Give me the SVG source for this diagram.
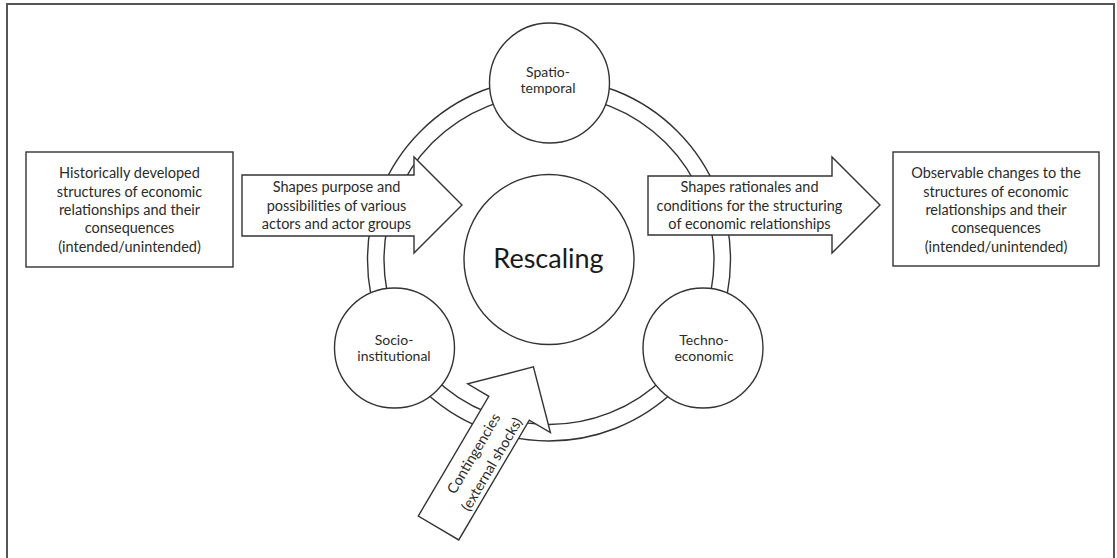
<svg xmlns="http://www.w3.org/2000/svg" width="1117" height="558" viewBox="0 0 1117 558">
<style>
.ln{fill:none;stroke:#333;stroke-width:1.4}
.wf{fill:#fff;stroke:#333;stroke-width:1.4}
.t{font-family:Lato,"Liberation Sans",sans-serif;font-size:14.5px;fill:#2b2b2b;text-anchor:middle}
.s{font-family:Lato,"Liberation Sans",sans-serif;font-size:14px;fill:#2b2b2b;text-anchor:middle}
.big{font-family:Lato,"Liberation Sans",sans-serif;font-size:27px;fill:#1a1a1a;text-anchor:middle}
</style>
<rect x="0" y="0" width="1117" height="558" fill="#fff"/>
<rect x="7" y="4" width="1107" height="570" fill="none" stroke="#555" stroke-width="2"/>
<g id="connectors">
<circle class="ln" cx="549" cy="259.5" r="181.5"/>
<circle class="ln" cx="549" cy="259.5" r="165"/>
</g>
<g id="node-spatio">
<circle class="wf" cx="549.5" cy="83" r="60"/>
<text class="s" x="548" y="77">Spatio-</text>
<text class="s" x="548" y="93">temporal</text>
</g>
<g id="node-socio">
<circle class="wf" cx="394.5" cy="348" r="60"/>
<text class="s" x="394" y="345">Socio-</text>
<text class="s" x="394" y="361">institutional</text>
</g>
<g id="node-techno">
<circle class="wf" cx="703" cy="348" r="60"/>
<text class="s" x="704" y="345">Techno-</text>
<text class="s" x="704" y="361">economic</text>
</g>
<g id="node-rescaling">
<circle class="wf" cx="549" cy="259.5" r="85"/>
<text class="big" x="548.5" y="268">Rescaling</text>
</g>
<g id="node-historical">
<rect class="wf" x="26" y="152" width="207" height="115"/>
<text class="t" x="129.5" y="178">Historically developed</text>
<text class="t" x="129.5" y="197">structures of economic</text>
<text class="t" x="129.5" y="215">relationships and their</text>
<text class="t" x="129.5" y="233">consequences</text>
<text class="t" x="129.5" y="252">(intended/unintended)</text>
</g>
<g id="node-observable">
<rect class="wf" x="893" y="152" width="206" height="114"/>
<text class="t" x="996" y="178">Observable changes to the</text>
<text class="t" x="996" y="197">structures of economic</text>
<text class="t" x="996" y="215">relationships and their</text>
<text class="t" x="996" y="233">consequences</text>
<text class="t" x="996" y="252">(intended/unintended)</text>
</g>
<g id="arrow-purpose">
<path class="wf" d="M242,175 L414,175 L414,157 L462,205 L414,253 L414,236 L242,236 Z"/>
<text class="t" x="336.5" y="192">Shapes purpose and</text>
<text class="t" x="336.5" y="211">possibilities of various</text>
<text class="t" x="336.5" y="229">actors and actor groups</text>
</g>
<g id="arrow-rationales">
<path class="wf" d="M648,176 L832,176 L832,157 L880,205 L832,253 L832,235 L648,235 Z"/>
<text class="t" x="749.5" y="192">Shapes rationales and</text>
<text class="t" x="749.5" y="211">conditions for the structuring</text>
<text class="t" x="749.5" y="229">of economic relationships</text>
</g>
<g id="arrow-contingencies" transform="translate(438.5,528) rotate(-59.5)">
<path class="wf" d="M0,-23.5 L139,-23.5 L139,-48 L187,0 L139,48 L139,23.5 L0,23.5 Z"/>
<text class="t" x="82" y="-2.5">Contingencies</text>
<text class="t" x="82" y="18.5">(external shocks)</text>
</g>
</svg>
